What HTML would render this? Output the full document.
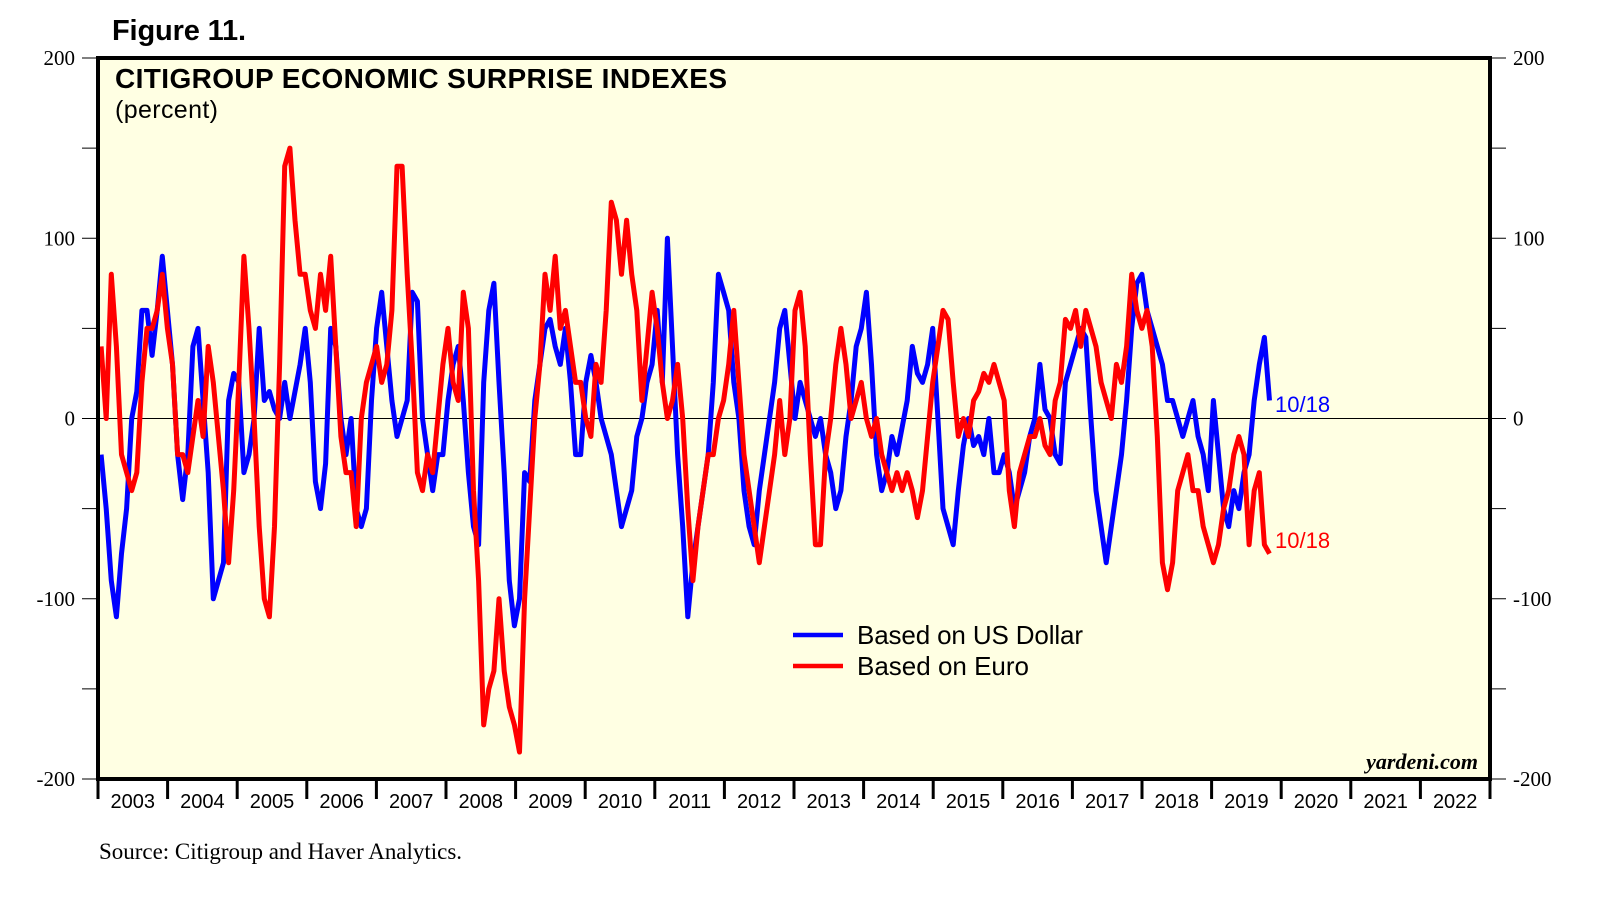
<!DOCTYPE html>
<html><head><meta charset="utf-8"><style>
body{margin:0;background:#fff;width:1599px;height:913px;overflow:hidden}
svg{display:block}
</style></head><body>
<svg id="chart" width="1599" height="913">
<text x="112" y="40" font-family="Liberation Sans, sans-serif" font-weight="bold" font-size="29" textLength="134">Figure 11.</text>
<rect x="98" y="58" width="1392" height="721" fill="#FFFFE3"/>
<g id="axes"></g>
<g id="series"></g>
<rect x="98" y="58" width="1392" height="721" fill="none" stroke="#000" stroke-width="4"/>
<text x="115" y="88" font-family="Liberation Sans, sans-serif" font-weight="bold" font-size="28" textLength="612">CITIGROUP ECONOMIC SURPRISE INDEXES</text>
<text x="115" y="118" font-family="Liberation Sans, sans-serif" font-size="25" textLength="103">(percent)</text>
<line x1="793" y1="635" x2="843" y2="635" stroke="#0000ff" stroke-width="4.5"/>
<text x="857" y="644" font-family="Liberation Sans, sans-serif" font-size="26" textLength="226">Based on US Dollar</text>
<line x1="793" y1="666" x2="843" y2="666" stroke="#ff0000" stroke-width="4.5"/>
<text x="857" y="675" font-family="Liberation Sans, sans-serif" font-size="26">Based on Euro</text>
<text x="1275" y="412" fill="#0000ff" font-family="Liberation Sans, sans-serif" font-size="22">10/18</text>
<text x="1275" y="548" fill="#ff0000" font-family="Liberation Sans, sans-serif" font-size="22">10/18</text>
<text x="1478" y="769" text-anchor="end" font-family="Liberation Serif, serif" font-weight="bold" font-style="italic" font-size="22">yardeni.com</text>
<text x="99" y="859" font-family="Liberation Serif, serif" font-size="23" textLength="363">Source: Citigroup and Haver Analytics.</text>
</svg>
<script>
const yTicks=[200,100,0,-100,-200];
const years=[2003,2004,2005,2006,2007,2008,2009,2010,2011,2012,2013,2014,2015,2016,2017,2018,2019,2020,2021,2022];
const startYear=2003.044;
const stepYears=0.07331;
const usd=[-20,-50,-90,-110,-75,-50,0,15,60,60,
35,60,90,60,30,-20,-45,-20,40,50,
10,-30,-100,-90,-80,10,25,20,-30,-20,
0,50,10,15,5,0,20,0,15,30,
50,20,-35,-50,-25,50,40,0,-20,0,
-50,-60,-50,10,50,70,40,10,-10,0,
10,70,65,0,-20,-40,-20,-20,10,30,
40,10,-30,-60,-70,20,60,75,20,-30,
-90,-115,-100,-30,-35,10,30,50,55,40,
30,50,20,-20,-20,20,35,20,0,-10,
-20,-40,-60,-50,-40,-10,0,20,30,60,
20,100,40,-20,-60,-110,-80,-60,-40,-20,
20,80,70,60,20,0,-40,-60,-70,-40,
-20,0,20,50,60,30,0,20,10,0,
-10,0,-20,-30,-50,-40,-10,10,40,50,
70,30,-20,-40,-30,-10,-20,-5,10,40,
25,20,30,50,0,-50,-60,-70,-40,-15,
0,-15,-10,-20,0,-30,-30,-20,-30,-50,
-40,-30,-10,0,30,5,0,-20,-25,20,
30,40,50,45,0,-40,-60,-80,-60,-40,
-20,10,50,75,80,60,50,40,30,10,
10,0,-10,0,10,-10,-20,-40,10,-20,
-50,-60,-40,-50,-30,-20,10,30,45,10];
const euro=[40,0,80,40,-20,-30,-40,-30,20,50,
50,60,80,50,30,-20,-20,-30,-10,10,
-10,40,20,-10,-40,-80,-40,20,90,50,
0,-60,-100,-110,-60,30,140,150,110,80,
80,60,50,80,60,90,40,-10,-30,-30,
-60,0,20,30,40,20,30,60,140,140,
80,30,-30,-40,-20,-30,0,30,50,20,
10,70,50,-40,-90,-170,-150,-140,-100,-140,
-160,-170,-185,-100,-50,0,30,80,60,90,
50,60,40,20,20,0,-10,30,20,60,
120,110,80,110,80,60,10,40,70,50,
20,0,10,30,0,-50,-90,-60,-40,-20,
-20,0,10,30,60,20,-20,-40,-60,-80,
-60,-40,-20,10,-20,0,60,70,40,-20,
-70,-70,-20,0,30,50,30,0,10,20,
0,-10,0,-20,-30,-40,-30,-40,-30,-40,
-55,-40,-10,20,40,60,55,20,-10,0,
-10,10,15,25,20,30,20,10,-40,-60,
-30,-20,-10,-10,0,-15,-20,10,20,55,
50,60,40,60,50,40,20,10,0,30,
20,40,80,60,50,60,40,-10,-80,-95,
-80,-40,-30,-20,-40,-40,-60,-70,-80,-70,
-50,-40,-20,-10,-20,-70,-40,-30,-70,-75];

const NS='http://www.w3.org/2000/svg';
const X0=98,X1=1490,Y0=58,Y1=779;
const xScale=t=>X0+(t-2003)*(X1-X0)/20;
const yScale=v=>Y0+(200-v)*(Y1-Y0)/400;
function mk(tag,attrs,parent){const e=document.createElementNS(NS,tag);for(const k in attrs)e.setAttribute(k,attrs[k]);parent.appendChild(e);return e;}
const axes=document.getElementById('axes');
let zl=mk('line',{x1:X0,x2:X1,y1:yScale(0),y2:yScale(0),stroke:'#000','stroke-width':1},axes);


for(let v=-200;v<=200;v+=50){
  const y=yScale(v);
  const tl=mk('line',{x1:X0-16,x2:X0,y1:y,y2:y,stroke:'#000','stroke-width':1},axes);
  
  
  const tr=mk('line',{x1:X1,x2:X1+16,y1:y,y2:y,stroke:'#000','stroke-width':1},axes);
  
  
}
yTicks.forEach(v=>{
  const y=yScale(v);
  const a=mk('text',{x:75,y:y+7,'text-anchor':'end','font-family':'Liberation Serif, serif','font-size':21},axes);
  a.textContent=v;
  
  
  const b=mk('text',{x:1513,y:y+7,'font-family':'Liberation Serif, serif','font-size':21},axes);
  b.textContent=v;
  
  
});
for(let i=0;i<=years.length;i++){
  const x=xScale(2003+i);
  const t=mk('line',{x1:x,x2:x,y1:Y1,y2:Y1+20,stroke:'#000','stroke-width':3},axes);
  
  
}
years.forEach(yr=>{
  const tx=mk('text',{x:xScale(yr+0.5),y:808,'text-anchor':'middle','font-family':'Liberation Sans, sans-serif','font-size':20},axes);
  tx.textContent=yr;
  
  
});
const series=document.getElementById('series');
function draw(vals,color,name){
  const d=vals.map((v,i)=>(i?'L':'M')+xScale(startYear+i*stepYears).toFixed(1)+','+yScale(v).toFixed(1)).join('');
  const p=mk('path',{d:d,fill:'none',stroke:color,'stroke-width':5,'stroke-linejoin':'round'},series);
  
  
}
draw(usd,'#0000ff','usd-surprise-line');
draw(euro,'#ff0000','euro-surprise-line');
</script>
</body></html>
